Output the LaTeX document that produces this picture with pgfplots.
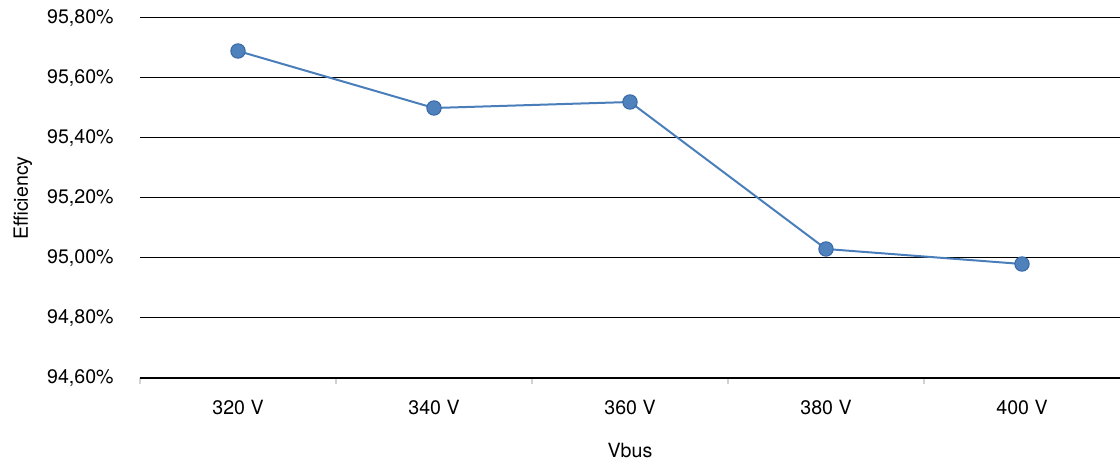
\documentclass[border=0pt]{standalone}
\usepackage{pgfplots}
\pgfplotsset{compat=1.18}
\usepackage{fontspec}
\setmainfont{TeX Gyre Heros}
\definecolor{lineblue}{HTML}{4A7EBB}
\definecolor{markfill}{HTML}{4F81BD}
\definecolor{markdraw}{HTML}{3A6AA6}
\begin{document}
\fontsize{9.8}{12}\selectfont
\begin{tikzpicture}
\useasboundingbox (-70pt,-43.5pt) rectangle (490pt,189pt);
\begin{axis}[
  scale only axis,
  width=490pt, height=180pt,
  xmin=-0.5, xmax=4.5,
  ymin=94.6, ymax=95.8,
  xtick={0,1,2,3,4},
  xticklabels={320 V,340 V,360 V,380 V,400 V},
  minor xtick={-0.5,0.5,1.5,2.5,3.5},
  ytick={94.6,94.8,95.0,95.2,95.4,95.6,95.8},
  yticklabels={{94,60\%},{94,80\%},{95,00\%},{95,20\%},{95,40\%},{95,60\%},{95,80\%}},
  major tick length=0pt,
  minor tick length=3pt,
  tick align=outside,
  minor tick style={gray!35, line width=0.6pt},
  axis x line*=bottom,
  axis y line*=left,
  x axis line style={line width=1pt, black},
  y axis line style={draw=none},
  ymajorgrids,
  major grid style={black, line width=0.5pt},
  tick label style={font=\fontsize{9.8}{12}\selectfont},
  xticklabel style={anchor=north, inner sep=0pt, yshift=-11pt},
  yticklabel style={anchor=east, inner sep=0pt, xshift=-13pt},
  every axis x label/.style={at={(axis description cs:0.5,-0.1806)}, anchor=north, inner sep=0pt, font=\fontsize{9.8}{12}\selectfont},
  every axis y label/.style={at={(axis description cs:-0.1143,0.5)}, rotate=90, anchor=base, inner sep=0pt, font=\fontsize{9.8}{12}\selectfont},
  xlabel={Vbus},
  ylabel={Efficiency},
  clip=false,
]
\addplot[color=lineblue, line width=1pt, mark=*, mark size=3.6pt,
  mark options={fill=markfill, draw=markdraw, line width=0.5pt}]
  coordinates {(0,95.69) (1,95.50) (2,95.52) (3,95.03) (4,94.98)};
\end{axis}
\end{tikzpicture}
\end{document}
